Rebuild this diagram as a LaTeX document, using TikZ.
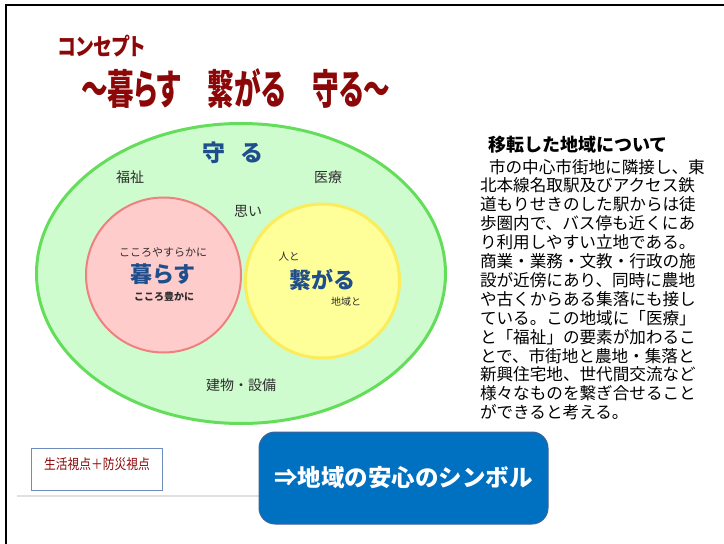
\documentclass[tikz,border=0pt]{standalone}
\usepackage{fontspec}
\usepackage{graphicx}
\setmainfont{Noto Sans CJK JP}
\newfontfamily\titlefont{Noto Sans CJK JP}[RawFeature=+palt]
\usetikzlibrary{shapes.geometric}
\definecolor{titlered}{RGB}{140,8,8}
\definecolor{mgreen}{RGB}{206,252,206}
\definecolor{mgreenline}{RGB}{100,222,90}
\definecolor{mpink}{RGB}{255,204,204}
\definecolor{mpinkline}{RGB}{238,128,128}
\definecolor{myellow}{RGB}{255,255,153}
\definecolor{myellowline}{RGB}{250,236,90}
\definecolor{vblue}{RGB}{31,78,140}
\definecolor{darktext}{RGB}{45,45,45}
\definecolor{boxblue}{RGB}{110,140,190}
\definecolor{symblue}{RGB}{0,112,192}
\definecolor{symborder}{RGB}{65,100,150}
\newcommand{\fs}[1]{\fontsize{#1}{#1}\selectfont}
\tikzset{
  lbl/.style={font=\fs{14}, text=darktext},
  small/.style={font=\fs{10.5}, text=darktext},
  big/.style={font=\bfseries\fs{22}, text=vblue},
  body/.style={anchor=west, font=\fs{16.6}, text=black},
}
\begin{document}
\begin{tikzpicture}[x=1pt,y=-1pt, every node/.style={inner sep=0pt, outer sep=0pt}]
\useasboundingbox (0,0) rectangle (724,544);
\fill[white] (0,0) rectangle (724,544);
\draw[line width=2.2pt] (6,544) -- (6,5) -- (724,5);

% titles
\node[anchor=west, text=titlered] (sub) at (58,46) {\titlefont\bfseries\resizebox*{87pt}{22pt}{コンセプト}};
\node[anchor=west, text=titlered] (title) at (81,88.5) {\titlefont\bfseries\resizebox*{309pt}{40pt}{～暮らす　繋がる　守る～}};

% venn
\node[ellipse, draw=mgreenline, fill=mgreen, line width=3pt, minimum width=409pt, minimum height=300pt] (mamoru) at (241,273.5) {};
\node[circle, draw=mpinkline, fill=mpink, line width=2pt, minimum size=155pt] (kurasu) at (163.5,275) {};
\node[circle, draw=myellowline, fill=myellow, line width=3pt, minimum size=154pt] (tsunagaru) at (322.5,281) {};

\node[font=\bfseries\fs{23}, text=vblue] (mamorut) at (233,153) {守\hspace{16pt}る};
\node[lbl] (fukushi) at (130,177) {福祉};
\node[lbl] (iryo) at (328,177) {医療};
\node[lbl] (omoi) at (248,211) {思い};
\node[small, font=\fs{11}] (yasuraka) at (163,252) {こころやすらかに};
\node[big] (kurasut) at (163,274) {暮らす};
\node[small, font=\bfseries\fs{10}] (yutaka) at (164,297) {こころ豊かに};
\node[small] (hito) at (289,257) {人と};
\node[big] (tsunagarut) at (322,280) {繋がる};
\node[small, font=\fs{10}] (chiiki) at (346,302) {地域と};
\node[lbl] (tatemono) at (241,385) {建物・設備};

% right text
\node[anchor=west, font=\bfseries\fs{18}] (head) at (488,145) {移転した地域について};
\node[body] (l1) at (489,166.7) {市の中心市街地に隣接し、東};
\node[body] (l2) at (480,185.6) {北本線名取駅及びアクセス鉄};
\node[body] (l3) at (480,204.5) {道もりせきのした駅からは徒};
\node[body] (l4) at (480,223.4) {歩圏内で、バス停も近くにあ};
\node[body] (l5) at (480,242.3) {り利用しやすい立地である。};
\node[body] (l6) at (480,261.2) {商業・業務・文教・行政の施};
\node[body] (l7) at (480,280.1) {設が近傍にあり、同時に農地};
\node[body] (l8) at (480,299.0) {や古くからある集落にも接し};
\node[body] (l9) at (480,317.9) {ている。この地域に「医療」};
\node[body] (l10) at (480,336.8) {と「福祉」の要素が加わるこ};
\node[body] (l11) at (480,355.7) {とで、市街地と農地・集落と};
\node[body] (l12) at (480,374.6) {新興住宅地、世代間交流など};
\node[body] (l13) at (480,393.5) {様々なものを繋ぎ合せること};
\node[body] (l14) at (480,412.4) {ができると考える。};

% bottom
\coordinate (gl) at (17,496);
\coordinate (gr) at (300,496);
\draw[black!12, line width=1.5pt] (gl) -- (gr);
\node[draw=boxblue, fill=white, line width=1.8pt, minimum width=131pt, minimum height=42pt] (vp) at (97,469.5) {};
\node[text=titlered] (vptext) at ([yshift=5.5pt]vp.center) {\resizebox*{106pt}{13pt}{生活視点＋防災視点}};
\node[rounded corners=16pt, fill=symblue, draw=symborder, line width=1pt, minimum width=289pt, minimum height=92pt, text=white, font=\bfseries\fs{23.5}] (symbol) at (403.5,478) {⇒地域の安心のシンボル};
\end{tikzpicture}
\end{document}
